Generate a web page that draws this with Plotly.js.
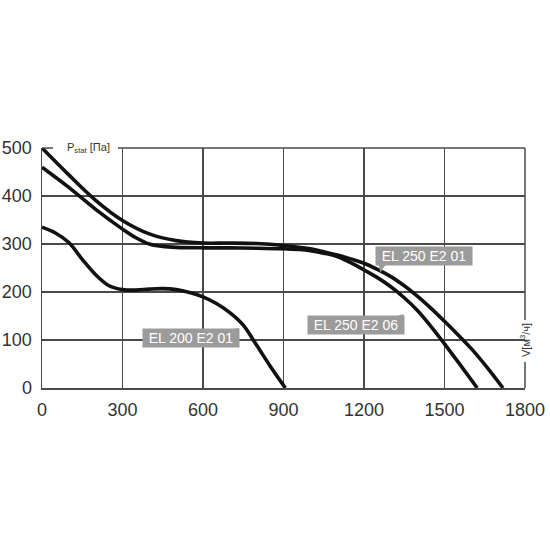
<!DOCTYPE html>
<html><head><meta charset="utf-8">
<script src="https://cdn.plot.ly/plotly-3.0.1.min.js"></script>
<style>html,body{margin:0;padding:0;background:#fff}</style>
</head><body>
<div id="chart" style="width:550px;height:550px"></div>
<script>
// EL 250 E2 01
var el25001_V = [0,100,200,300,400,500,600,700,800,900,1000,1050,1100,1150,1200,1250,1300,1350,1400,1450,1500,1550,1600,1660,1718];
var el25001_P = [500,444,391,349,321,307,302,302,301,297,290,284,277,269,260,247,232,213,191,166,139,111,82,42,0];
// EL 250 E2 06
var el25006_V = [0,100,200,300,350,400,450,500,600,700,800,900,1000,1050,1100,1150,1200,1250,1300,1350,1400,1450,1500,1560,1622];
var el25006_P = [460,418,372,331,313,300,295,293,292,292,291,290,286,281,274,261,246,230,211,188,161,128,92,47,0];
// EL 200 E2 01
var el20001_V = [0,50,100,150,200,250,300,350,400,450,500,550,600,650,700,750,800,850,907];
var el20001_P = [335,323,303,268,236,213,205,204,206,207,205,199,190,176,157,131,89,46,0];

var xTicks = [0,300,600,900,1200,1500,1800];
var yTicks = [0,100,200,300,400,500];
var labels = ["EL 250 E2 01","EL 250 E2 06","EL 200 E2 01"];
var labelPos = [[1425,276],[1170,131],[555,104]];

var L=42, R=25, T=148, B=162, W=550, H=550;
var pw = W-L-R, ph = H-T-B;
function dx(px){ return px*1800/pw; }   // pixel offset -> data
function dy(py){ return py*500/ph; }

var lineStyle = {color:'#111', width:3.6, shape:'spline', smoothing:1};
var traces = [
  {x:el25001_V, y:el25001_P, mode:'lines', line:lineStyle, name:labels[0], hoverinfo:'skip'},
  {x:el25006_V, y:el25006_P, mode:'lines', line:lineStyle, name:labels[1], hoverinfo:'skip'},
  {x:el20001_V, y:el20001_P, mode:'lines', line:lineStyle, name:labels[2], hoverinfo:'skip'}
];

var gridC = '#4a4a4a';
var shapes = [
  {type:'line', xref:'paper', yref:'paper', x0:0, x1:(53-L)/pw, y0:1, y1:1, line:{color:gridC,width:1.5}},
  {type:'line', xref:'paper', yref:'paper', x0:(118-L)/pw, x1:1, y0:1, y1:1, line:{color:gridC,width:1.5}},
  {type:'line', xref:'paper', yref:'paper', x0:1, x1:1, y0:1, y1:(H-B-320)/ph, line:{color:gridC,width:1.5}},
  {type:'line', xref:'paper', yref:'paper', x0:1, x1:1, y0:(H-B-362)/ph, y1:0, line:{color:gridC,width:1.5}}
];
var tails = [
  [[-46,8],[-38,8],[-44,17]],
  [[37,-8],[48,-11],[41,0]],
  [[37,-8],[48,-10],[41,0]]
];
labelPos.forEach(function(p,i){
  var t = tails[i];
  var path = 'M' + t.map(function(q){return (p[0]+dx(q[0]))+','+(p[1]-dy(q[1]));}).join(' L') + ' Z';
  shapes.push({type:'path', xref:'x', yref:'y', path:path, fillcolor:'#9b9b9b', line:{width:0}});
});

var annotations = labels.map(function(s,i){
  return {x:labelPos[i][0], y:labelPos[i][1], xref:'x', yref:'y', text:s, showarrow:false,
    bgcolor:'#9b9b9b', font:{family:'Liberation Sans, Arial, sans-serif', size:14, color:'#fff'},
    width:94, height:16, borderpad:1, xanchor:'center', yanchor:'middle'};
});
annotations.push({xref:'paper', yref:'paper', x:(88-L)/pw, y:1, text:'P<sub>stat</sub> [Па]', showarrow:false,
  font:{family:'Liberation Sans, Arial, sans-serif', size:11, color:'#333'}, xanchor:'center', yanchor:'middle'});
annotations.push({xref:'paper', yref:'paper', x:1, y:(H-B-340)/ph, text:'V[м<sup>3</sup>/ч]', showarrow:false, textangle:-90,
  font:{family:'Liberation Sans, Arial, sans-serif', size:11, color:'#333'}, xanchor:'center', yanchor:'middle'});

var tickFont = {family:'Liberation Sans, Arial, sans-serif', size:18, color:'#333'};
var layout = {
  width:W, height:H, margin:{l:L, r:R, t:T, b:B, pad:0},
  paper_bgcolor:'#fff', plot_bgcolor:'#fff', showlegend:false,
  xaxis:{range:[0,1800], tickvals:xTicks, ticktext:xTicks.map(String), showgrid:true, gridcolor:gridC, gridwidth:1.5,
    zeroline:false, showline:true, linecolor:gridC, linewidth:1.5, ticks:'outside', ticklen:5, tickcolor:'rgba(0,0,0,0)',
    tickfont:tickFont, fixedrange:true},
  yaxis:{range:[0,500], tickvals:yTicks, ticktext:yTicks.map(String), showgrid:true, gridcolor:gridC, gridwidth:1.5,
    zeroline:false, showline:true, linecolor:gridC, linewidth:1.5, ticks:'outside', ticklen:5, tickcolor:'rgba(0,0,0,0)',
    tickfont:tickFont, fixedrange:true},
  shapes:shapes, annotations:annotations
};
Plotly.newPlot('chart', traces, layout, {displayModeBar:false, staticPlot:true});
</script>
</body></html>
